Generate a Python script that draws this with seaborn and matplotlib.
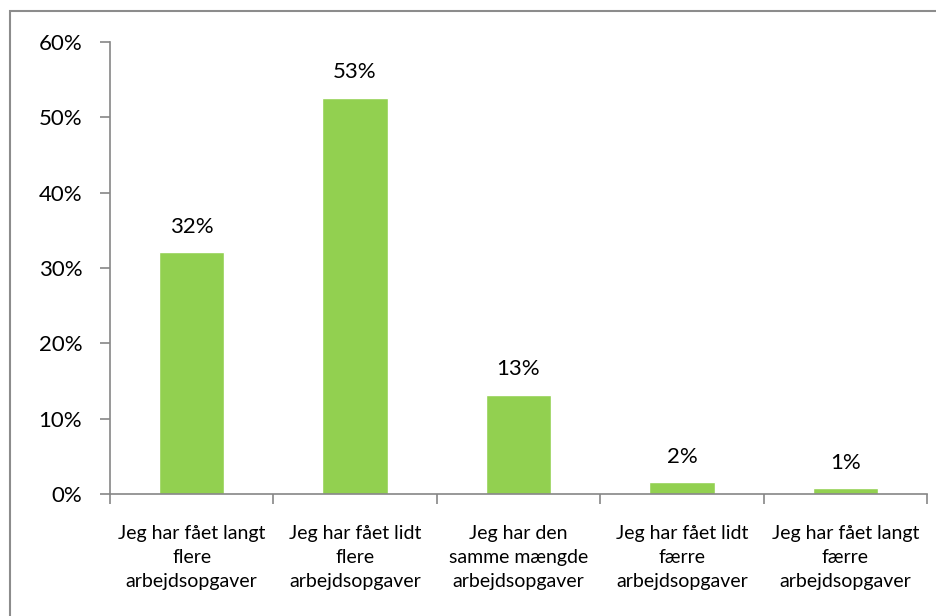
import matplotlib
matplotlib.use("Agg")
import matplotlib.pyplot as plt
import seaborn as sns
import pandas as pd
from matplotlib.patches import Rectangle
from matplotlib.ticker import FixedLocator

categories = [
    "Jeg har fået langt\nflere\narbejdsopgaver",
    "Jeg har fået lidt\nflere\narbejdsopgaver",
    "Jeg har den\nsamme mængde\narbejdsopgaver",
    "Jeg har fået lidt\nfærre\narbejdsopgaver",
    "Jeg har fået langt\nfærre\narbejdsopgaver",
]
shares = [32.1, 52.6, 13.2, 1.6, 0.8]
y_ticks = [0, 10, 20, 30, 40, 50, 60]

sns.set_theme(style="white")
plt.rcParams["font.family"] = ["Lato", "DejaVu Sans"]

df = pd.DataFrame({"kategori": categories, "andel": shares})

fig = plt.figure(figsize=(9.37, 6.16), dpi=100)
ax = fig.add_axes([110 / 937, 1 - 494 / 616, 817 / 937, 452 / 616])

sns.barplot(data=df, x="kategori", y="andel", color="#92D050",
            saturation=1, width=0.4, ax=ax)

ax.set_xlim(-0.5, len(categories) - 0.5)
ax.set_ylim(0, 60)
ax.set_yticks(y_ticks)
ax.set_yticklabels([f"{t}%" for t in y_ticks], fontsize=16, color="black")
ax.tick_params(axis="y", which="major", direction="out", length=7,
               width=1.2, color="#868686", pad=13, left=True)

ax.set_xticks(range(len(categories)))
ax.set_xticklabels(categories, fontsize=14, color="black", linespacing=1.5)
ax.tick_params(axis="x", which="major", length=0, pad=22)
ax.xaxis.set_minor_locator(FixedLocator([i - 0.5 for i in range(len(categories) + 1)]))
ax.tick_params(axis="x", which="minor", direction="out", length=7,
               width=1.2, color="#868686", bottom=True)

ax.set_xlabel("")
ax.set_ylabel("")

for side in ["top", "right"]:
    ax.spines[side].set_visible(False)
for side in ["left", "bottom"]:
    ax.spines[side].set_color("#868686")
    ax.spines[side].set_linewidth(1.2)

for i, v in enumerate(shares):
    ax.annotate(f"{round(v)}%", xy=(i, v), xytext=(0, 11),
                textcoords="offset points", ha="center", va="bottom",
                fontsize=16, color="black")

# chart frame
fig.patches.append(Rectangle((10 / 937, -0.1), 1.2, 1 - 11 / 616 + 0.1,
                             transform=fig.transFigure, fill=False,
                             edgecolor="#8c8c8c", linewidth=1.5))

fig.savefig("out.png", dpi=100, facecolor="white")
